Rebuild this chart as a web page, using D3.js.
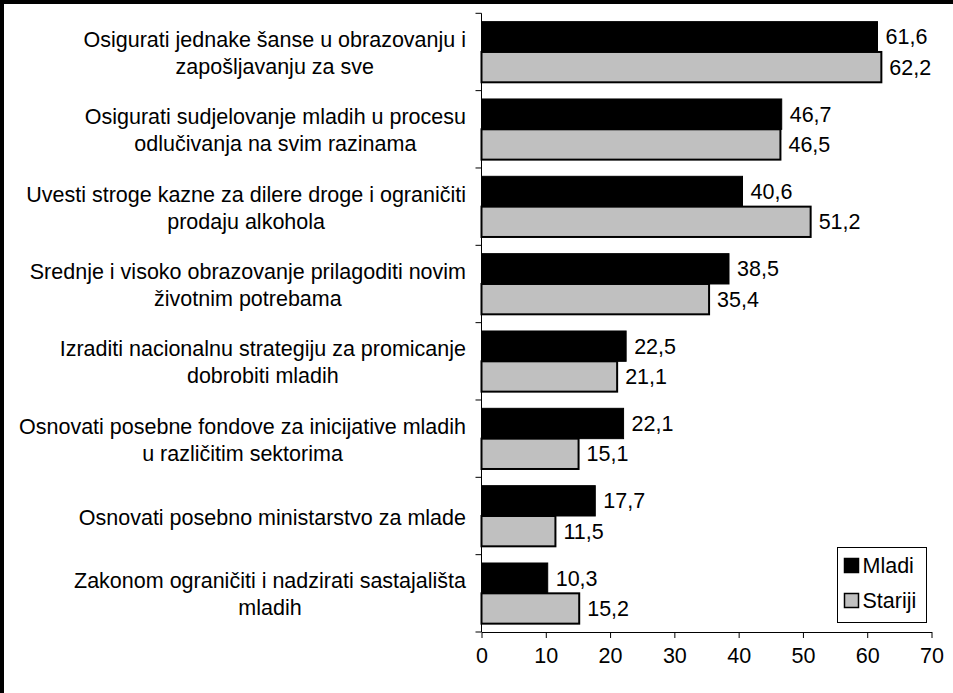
<!DOCTYPE html>
<html>
<head>
<meta charset="utf-8">
<script src="https://cdn.jsdelivr.net/npm/d3@7"></script>
<style>
  html, body { margin: 0; padding: 0; background: #fff; overflow: hidden; }
  svg { display: block; }
  svg text { font-family: "Liberation Sans", Arial, sans-serif; fill: #000; }
</style>
</head>
<body>
<div id="chart"></div>
<script>
const categories = [
    "Osigurati jednake šanse u obrazovanju i\nzapošljavanju za sve",
    "Osigurati sudjelovanje mladih u procesu\nodlučivanja na svim razinama",
    "Uvesti stroge kazne za dilere droge i ograničiti\nprodaju alkohola",
    "Srednje i visoko obrazovanje prilagoditi novim\nživotnim potrebama",
    "Izraditi nacionalnu strategiju za promicanje\ndobrobiti mladih",
    "Osnovati posebne fondove za inicijative mladih\nu različitim sektorima",
    "Osnovati posebno ministarstvo za mlade",
    "Zakonom ograničiti i nadzirati sastajališta\nmladih"
];
const mladi = [61.6, 46.7, 40.6, 38.5, 22.5, 22.1, 17.7, 10.3];
const stariji = [62.2, 46.5, 51.2, 35.4, 21.1, 15.1, 11.5, 15.2];
const seriesNames = ["Mladi", "Stariji"];
const xTicks = [0, 10, 20, 30, 40, 50, 60, 70];

const chartW = 953, chartH = 693;
const plotLeft = 481.5, plotRight = 931.5, plotTop = 13.3, plotBottom = 632;
const fontSize = 21.5;
const colors = {Mladi: '#000000', Stariji: '#c0c0c0'};

const svg = d3.select('#chart').append('svg')
    .attr('width', chartW)
    .attr('height', chartH);

svg.append('rect').attr('width', chartW).attr('height', chartH).attr('fill', '#fff');

// outer frame (only top and left edges show)
svg.append('rect').attr('x', 0).attr('y', 0).attr('width', chartW).attr('height', 4).attr('fill', '#000');
svg.append('rect').attr('x', 0).attr('y', 0).attr('width', 4).attr('height', chartH).attr('fill', '#000');

const xScale = d3.scaleLinear().domain([0, 70]).range([plotLeft, plotRight]);
const yScale = d3.scaleBand().domain(d3.range(categories.length)).range([plotTop, plotBottom]).paddingInner(0).paddingOuter(0);
const sub = d3.scaleBand().domain(seriesNames).range([0, yScale.bandwidth()]).paddingOuter(0.275).paddingInner(0);

const rows = categories.map((c, i) => ({i: i, label: c, Mladi: mladi[i], Stariji: stariji[i]}));

const groups = svg.append('g').selectAll('g')
    .data(rows)
    .enter().append('g')
    .attr('transform', d => `translate(0,${yScale(d.i)})`);

seriesNames.forEach(s => {
    groups.append('rect')
        .attr('x', xScale(0))
        .attr('y', sub(s))
        .attr('width', d => xScale(d[s]) - xScale(0))
        .attr('height', sub.bandwidth())
        .attr('fill', colors[s])
        .attr('stroke', '#000')
        .attr('stroke-width', s == 'Stariji' ? 2 : 1);

    groups.append('text')
        .attr('x', d => xScale(d[s]) + 8)
        .attr('y', sub(s) + sub.bandwidth() / 2)
        .attr('dy', '0.35em')
        .attr('font-size', fontSize)
        .text(d => d3.format('.1f')(d[s]).replace('.', ','));
});

// axes
const xAxis = d3.axisBottom(xScale).tickValues(xTicks).tickSize(6).tickSizeOuter(0).tickPadding(10);
svg.append('g')
    .attr('transform', `translate(0,${plotBottom})`)
    .call(xAxis)
    .call(g => g.attr('font-family', null).attr('font-size', null))
    .call(g => g.selectAll('text').attr('font-size', fontSize))
    .call(g => g.select('.domain').attr('stroke', '#000'));

const yTickVals = d3.range(categories.length + 1).map(i => plotTop + i * yScale.step());
const yAxisG = svg.append('g');
yAxisG.append('line')
    .attr('x1', plotLeft).attr('x2', plotLeft)
    .attr('y1', plotTop).attr('y2', plotBottom)
    .attr('stroke', '#000');
yAxisG.selectAll('.tick')
    .data(yTickVals)
    .enter().append('line')
    .attr('x1', plotLeft - 6).attr('x2', plotLeft)
    .attr('y1', d => d).attr('y2', d => d)
    .attr('stroke', '#000');

// category labels: each block right aligned, lines centred inside it
const labelRight = 466;
const lineHeight = 27;
const labels = svg.append('g').selectAll('text')
    .data(rows)
    .enter().append('text')
    .attr('font-size', fontSize)
    .attr('text-anchor', 'middle');

labels.each(function (d) {
    const t = d3.select(this);
    const lines = d.label.split('\n');
    const cy = yScale(d.i) + yScale.bandwidth() / 2 + 1;
    lines.forEach((l, k) => {
        t.append('tspan')
            .attr('y', cy + (k - (lines.length - 1) / 2) * lineHeight)
            .attr('dy', '0.35em')
            .text(l);
    });
    const w = d3.max(t.selectAll('tspan').nodes(), n => n.getComputedTextLength());
    t.selectAll('tspan').attr('x', labelRight - w / 2);
});

// legend
const legend = svg.append('g').attr('transform', 'translate(837.5,547.5)');
legend.append('rect')
    .attr('width', 89).attr('height', 75)
    .attr('fill', '#fff').attr('stroke', '#000');
const items = legend.selectAll('g')
    .data(seriesNames)
    .enter().append('g')
    .attr('transform', (d, i) => `translate(7,${18 + i * 35})`);
items.append('rect')
    .attr('x', 0).attr('y', -7)
    .attr('width', 14).attr('height', 14)
    .attr('fill', d => colors[d])
    .attr('stroke', '#000')
    .attr('stroke-width', 1.5);
items.append('text')
    .attr('x', 18)
    .attr('dy', '0.35em')
    .attr('font-size', fontSize)
    .text(d => d);
</script>
</body>
</html>
